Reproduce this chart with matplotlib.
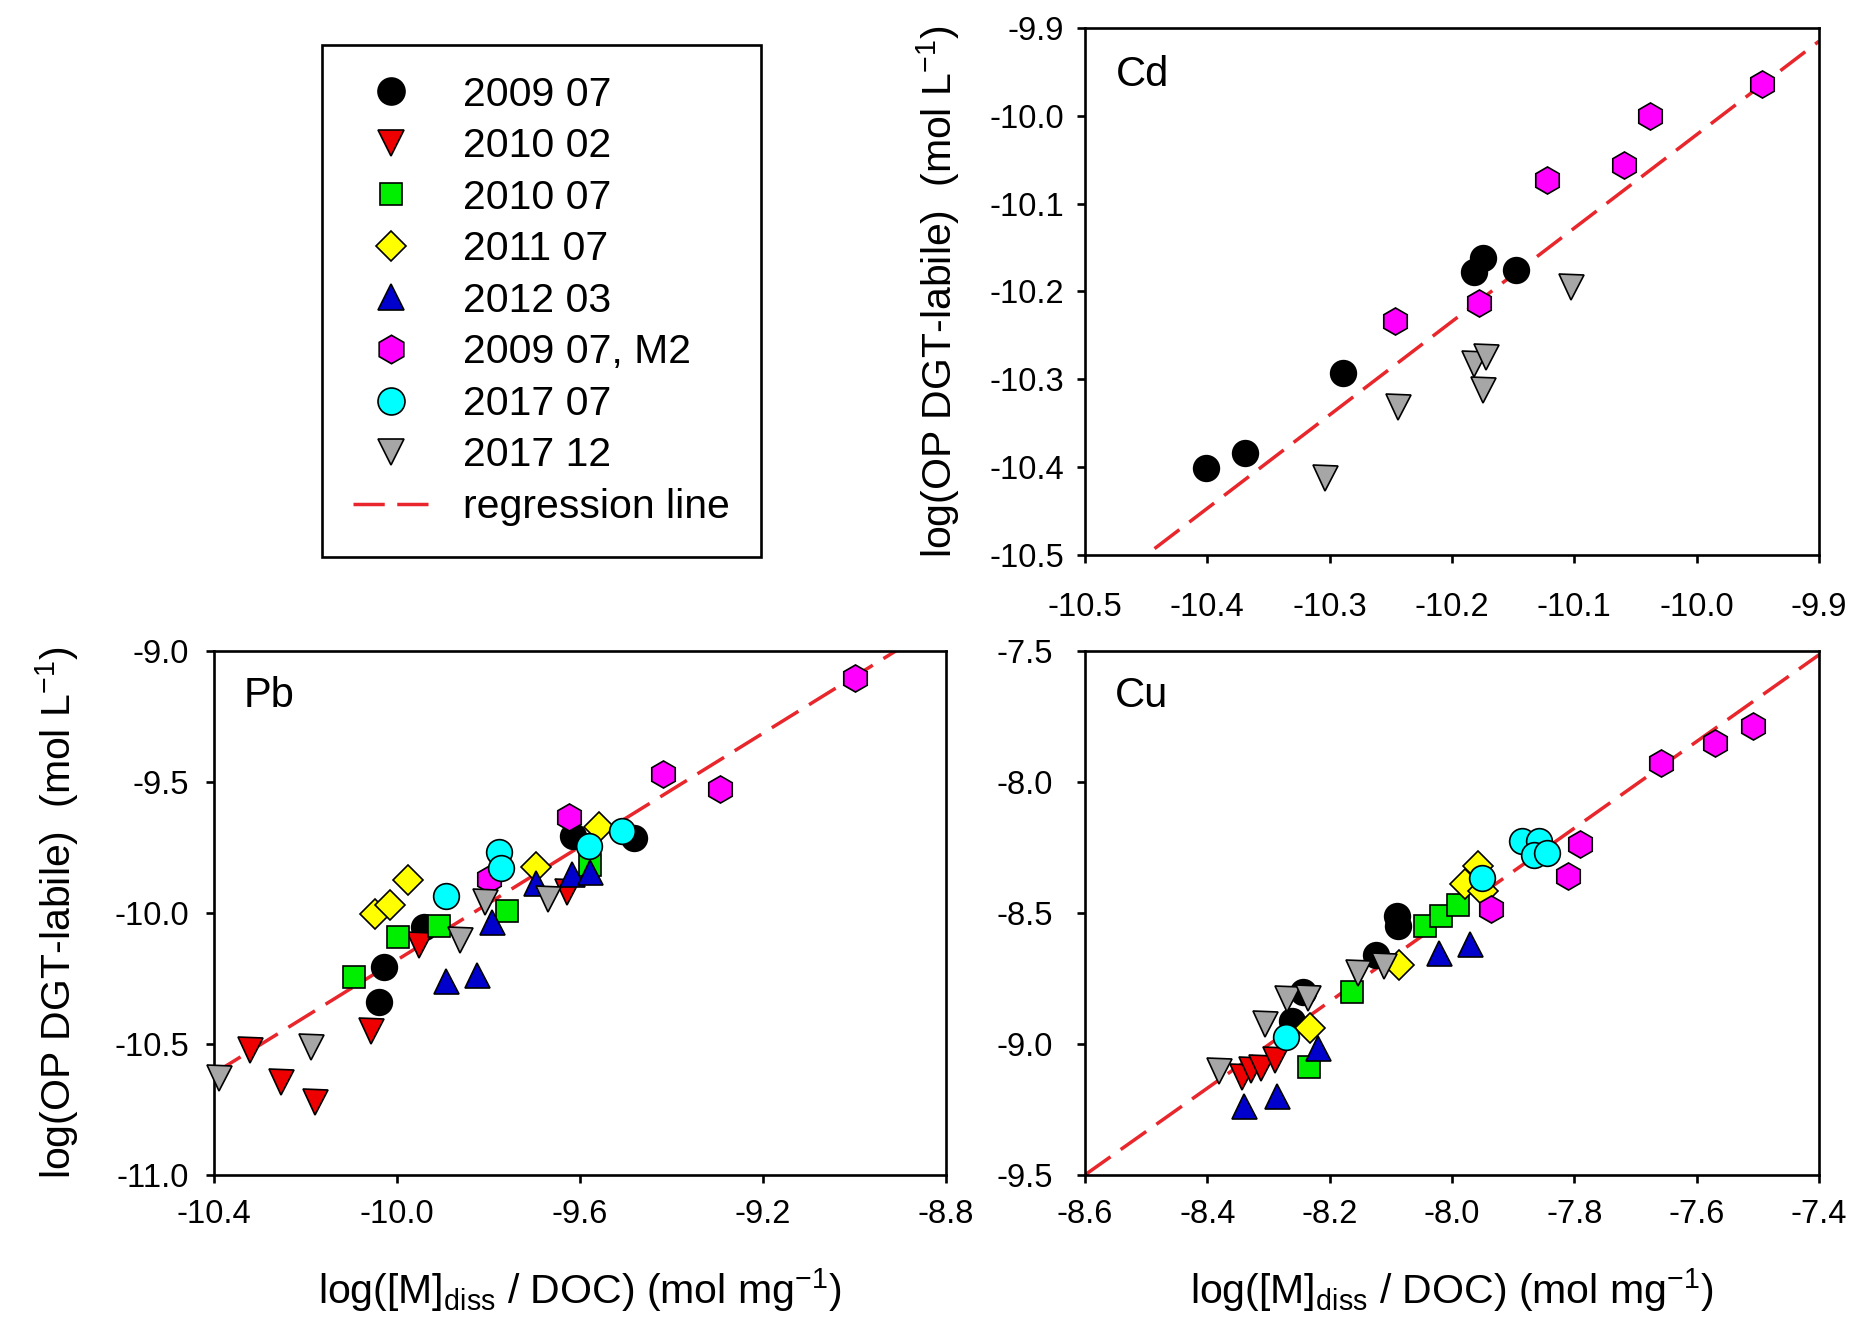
import matplotlib
matplotlib.use("Agg")
import matplotlib.pyplot as plt
from matplotlib.lines import Line2D

plt.rcParams['font.family'] = ['Liberation Sans', 'DejaVu Sans']
plt.rcParams['mathtext.default'] = 'regular'
plt.rcParams['axes.unicode_minus'] = False

# ---------------- data ----------------
series_labels = ["2009 07", "2010 02", "2010 07", "2011 07", "2012 03",
                 "2009 07, M2", "2017 07", "2017 12"]
series_markers = ["o", "v", "s", "D", "^", "h", "o", "v"]
series_colors = ["#000000", "#ee0000", "#00ee00", "#ffff00", "#0000cc",
                 "#ff00ff", "#00ffff", "#a6a6a6"]

# Cd panel
cd_0907_x = [-10.401, -10.369, -10.289, -10.182, -10.175, -10.148]
cd_0907_y = [-10.401, -10.384, -10.293, -10.178, -10.162, -10.175]
cd_0907m2_x = [-10.247, -10.178, -10.122, -10.059, -10.038, -9.947]
cd_0907m2_y = [-10.234, -10.213, -10.073, -10.056, -10.000, -9.964]
cd_1712_x = [-10.304, -10.244, -10.182, -10.172, -10.175, -10.103]
cd_1712_y = [-10.412, -10.331, -10.283, -10.275, -10.312, -10.195]

# Pb panel
pb_0907_x = [-10.040, -10.029, -9.941, -9.615, -9.482]
pb_0907_y = [-10.340, -10.208, -10.054, -9.708, -9.714]
pb_1002_x = [-10.321, -10.253, -10.179, -10.057, -9.952, -9.629]
pb_1002_y = [-10.524, -10.646, -10.721, -10.449, -10.122, -9.918]
pb_1007_x = [-10.094, -9.998, -9.909, -9.760, -9.578]
pb_1007_y = [-10.245, -10.091, -10.050, -9.993, -9.816]
pb_1107_x = [-10.049, -10.015, -9.975, -9.697, -9.558]
pb_1107_y = [-10.004, -9.969, -9.873, -9.823, -9.673]
pb_1203_x = [-9.893, -9.826, -9.792, -9.697, -9.618, -9.578]
pb_1203_y = [-10.259, -10.238, -10.034, -9.884, -9.850, -9.844]
pb_0907m2_x = [-9.799, -9.624, -9.418, -9.295, -8.998]
pb_0907m2_y = [-9.871, -9.633, -9.469, -9.528, -9.102]
pb_1707_x = [-9.892, -9.777, -9.773, -9.581, -9.508]
pb_1707_y = [-9.936, -9.769, -9.830, -9.746, -9.687]
pb_1712_x = [-10.389, -10.188, -9.862, -9.807, -9.669]
pb_1712_y = [-10.630, -10.510, -10.102, -9.959, -9.946]

# Cu panel
cu_0907_x = [-8.261, -8.244, -8.124, -8.090, -8.088]
cu_0907_y = [-8.912, -8.803, -8.660, -8.510, -8.551]
cu_1002_x = [-8.344, -8.328, -8.312, -8.290]
cu_1002_y = [-9.125, -9.100, -9.090, -9.061]
cu_1007_x = [-8.233, -8.163, -8.044, -8.018, -7.990]
cu_1007_y = [-9.088, -8.803, -8.551, -8.510, -8.469]
cu_1107_x = [-8.232, -8.086, -7.978, -7.957, -7.949]
cu_1107_y = [-8.939, -8.698, -8.388, -8.320, -8.415]
cu_1203_x = [-8.340, -8.286, -8.219, -8.021, -7.970]
cu_1203_y = [-9.238, -9.197, -9.014, -8.653, -8.619]
cu_0907m2_x = [-7.936, -7.810, -7.791, -7.658, -7.570, -7.508]
cu_0907m2_y = [-8.483, -8.358, -8.238, -7.929, -7.853, -7.785]
cu_1707_x = [-8.271, -7.951, -7.886, -7.857, -7.866, -7.845]
cu_1707_y = [-8.973, -8.367, -8.224, -8.224, -8.279, -8.272]
cu_1712_x = [-8.381, -8.306, -8.269, -8.236, -8.153, -8.111]
cu_1712_y = [-9.102, -8.925, -8.830, -8.823, -8.728, -8.701]

# regression lines (slope, intercept)
cd_reg = [1.0636, 0.6146]
pb_reg = [1.0819, 0.6397]
cu_reg = [1.654, 4.725]

cd_ticks = [-10.5, -10.4, -10.3, -10.2, -10.1, -10.0, -9.9]
pb_xticks = [-10.4, -10.0, -9.6, -9.2, -8.8]
pb_yticks = [-11.0, -10.5, -10.0, -9.5, -9.0]
cu_xticks = [-8.6, -8.4, -8.2, -8.0, -7.8, -7.6, -7.4]
cu_yticks = [-9.5, -9.0, -8.5, -8.0, -7.5]

ylab = "log(OP DGT-labile)  (mol L$^{-1}$)"
xlab = "log([M]$_{diss}$ / DOC) (mol mg$^{-1}$)"

FS_TICK = 23.5
FS_LAB = 29.5
FS_PANEL = 30
MS = {"o": 18.5, "v": 18, "s": 15.5, "D": 15, "^": 18, "h": 19.5}
RED = "#e8262b"
DASH = (0, (9, 3.6))

fig = plt.figure(figsize=(18.65, 13.35), dpi=100)

ax_cd = fig.add_axes([1085/1865, 1 - 555/1335, (1819 - 1085)/1865, (555 - 28)/1335])
ax_pb = fig.add_axes([214/1865, 1 - 1175/1335, (946 - 214)/1865, (1175 - 651)/1335])
ax_cu = fig.add_axes([1085/1865, 1 - 1175/1335, (1819 - 1085)/1865, (1175 - 651)/1335])


def draw_series(ax, idx, xs, ys):
    m = series_markers[idx]
    ax.plot(xs, ys, linestyle="none", marker=m, markersize=MS[m],
            markerfacecolor=series_colors[idx], markeredgecolor="black",
            markeredgewidth=1.2, clip_on=False, zorder=3 + idx * 0.01)


def reg_line(ax, reg, xlim):
    xs = [xlim[0], xlim[1]]
    ys = [reg[0] * v + reg[1] for v in xs]
    ax.plot(xs, ys, color=RED, linestyle=DASH, linewidth=2.5, zorder=2)


def style(ax, xlim, ylim, xt, yt, xpad, ypad):
    ax.set_xlim(xlim)
    ax.set_ylim(ylim)
    ax.set_xticks(xt)
    ax.set_yticks(yt)
    ax.set_xticklabels(["%.1f" % v for v in xt])
    ax.set_yticklabels(["%.1f" % v for v in yt])
    for s in ax.spines.values():
        s.set_linewidth(1.9)
    ax.tick_params(axis="both", direction="out", length=6, width=1.9,
                   labelsize=FS_TICK)
    ax.tick_params(axis="x", pad=xpad)
    ax.tick_params(axis="y", pad=ypad)


# Cd
draw_series(ax_cd, 0, cd_0907_x, cd_0907_y)
draw_series(ax_cd, 5, cd_0907m2_x, cd_0907m2_y)
draw_series(ax_cd, 7, cd_1712_x, cd_1712_y)
reg_line(ax_cd, cd_reg, (-10.5, -9.9))
style(ax_cd, (-10.5, -9.9), (-10.5, -9.9), cd_ticks, cd_ticks, 21, 9)
ax_cd.set_ylabel(ylab, fontsize=FS_LAB, labelpad=20)
ax_cd.text(0.042, 0.91, "Cd", transform=ax_cd.transAxes, fontsize=FS_PANEL,
           va="center", ha="left")

# Pb
pb_sets = [(pb_0907_x, pb_0907_y), (pb_1002_x, pb_1002_y), (pb_1007_x, pb_1007_y),
           (pb_1107_x, pb_1107_y), (pb_1203_x, pb_1203_y), (pb_0907m2_x, pb_0907m2_y),
           (pb_1707_x, pb_1707_y), (pb_1712_x, pb_1712_y)]
for i, (xs, ys) in enumerate(pb_sets):
    draw_series(ax_pb, i, xs, ys)
reg_line(ax_pb, pb_reg, (-10.4, -8.8))
style(ax_pb, (-10.4, -8.8), (-11.0, -9.0), pb_xticks, pb_yticks, 11, 12)
ax_pb.set_ylabel(ylab, fontsize=FS_LAB, labelpad=24)
ax_pb.set_xlabel(xlab, fontsize=FS_LAB, labelpad=26)
ax_pb.text(0.041, 0.914, "Pb", transform=ax_pb.transAxes, fontsize=FS_PANEL,
           va="center", ha="left")

# Cu
cu_sets = [(cu_0907_x, cu_0907_y), (cu_1002_x, cu_1002_y), (cu_1007_x, cu_1007_y),
           (cu_1107_x, cu_1107_y), (cu_1203_x, cu_1203_y), (cu_0907m2_x, cu_0907m2_y),
           (cu_1707_x, cu_1707_y), (cu_1712_x, cu_1712_y)]
for i, (xs, ys) in enumerate(cu_sets):
    draw_series(ax_cu, i, xs, ys)
reg_line(ax_cu, cu_reg, (-8.6, -7.4))
style(ax_cu, (-8.6, -7.4), (-9.5, -7.5), cu_xticks, cu_yticks, 11, 17)
ax_cu.set_xlabel(xlab, fontsize=FS_LAB, labelpad=26)
ax_cu.text(0.041, 0.914, "Cu", transform=ax_cu.transAxes, fontsize=FS_PANEL,
           va="center", ha="left")

# Legend
handles = []
for i, lab in enumerate(series_labels):
    m = series_markers[i]
    handles.append(Line2D([], [], linestyle="none", marker=m,
                          markersize=MS[m] * 1.05, markerfacecolor=series_colors[i],
                          markeredgecolor="black", markeredgewidth=1.2, label=lab))
handles.append(Line2D([], [], color=RED, linestyle=DASH, linewidth=2.5,
                      label="regression line"))
lx0 = 322/1865
ly1 = 1 - 45/1335
leg = fig.legend(handles=handles, loc="upper left", bbox_to_anchor=(lx0, ly1),
                 bbox_transform=fig.transFigure, fontsize=FS_LAB, frameon=True,
                 fancybox=False, framealpha=1, edgecolor="black",
                 borderpad=0.75, labelspacing=0.33, handlelength=1.85,
                 handletextpad=0.85, borderaxespad=0)
leg.get_frame().set_linewidth(1.9)

fig.savefig("out.png", dpi=100)
